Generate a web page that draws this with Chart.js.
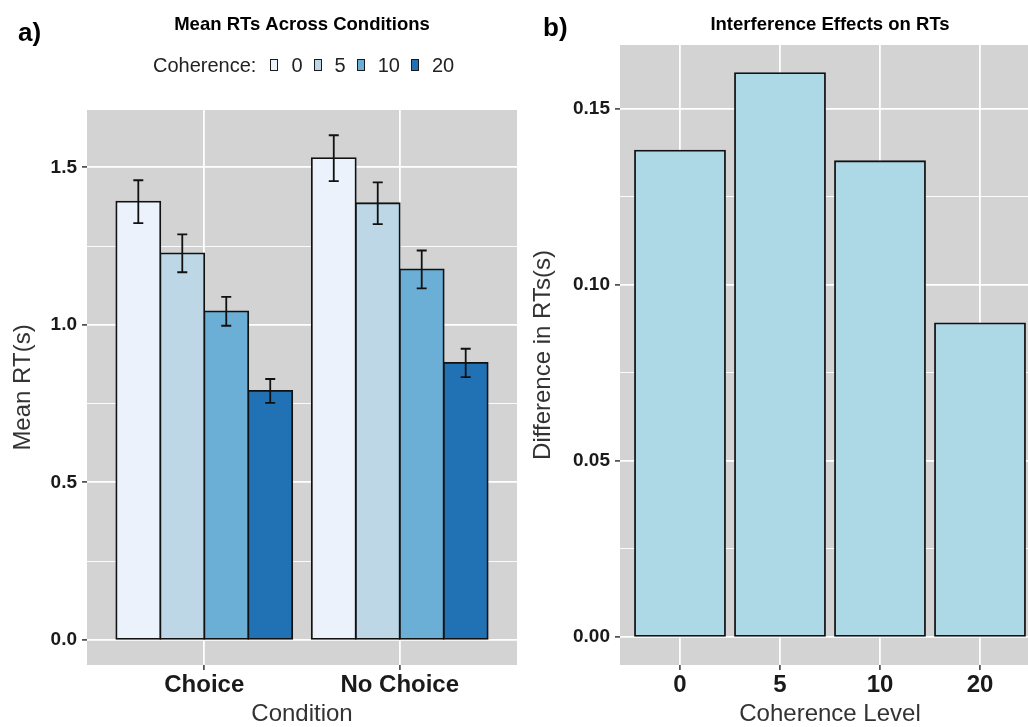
<!DOCTYPE html>
<html>
<head>
<meta charset="utf-8">
<script src="https://cdn.jsdelivr.net/npm/chart.js@4.4.1/dist/chart.umd.min.js"></script>
<style>
  body { margin: 0; background: #fff; overflow: hidden; width: 1028px; height: 727px; position: relative;
         font-family: "Liberation Sans", Arial, sans-serif; }
  canvas { position: absolute; top: 0; }
  #rtChart { left: 0; }
  #diffChart { left: 520px; }
  .tag { position: absolute; font-weight: bold; font-size: 26px; line-height: 26px; color: #000; }
  #legend { position: absolute; left: 153px; top: 53px; display: flex; align-items: center;
            font-size: 20px; line-height: 24px; color: #222; white-space: nowrap; }
  .key { display: inline-block; box-sizing: border-box; width: 8px; height: 12px;
         border: 1.6px solid #1a1a1a; margin: 0 13px 0 14px; }
  .lab { margin-right: -3px; }
</style>
</head>
<body>
<canvas id="rtChart" width="520" height="727"></canvas>
<canvas id="diffChart" width="520" height="727"></canvas>
<div class="tag" style="left:18px; top:19px;">a)</div>
<div class="tag" style="left:543px; top:14px;">b)</div>
<div id="legend"></div>

<script>
const conditions = ['Choice', 'No Choice'];
const coherenceLevels = ['0', '5', '10', '20'];

// mean RT (s) and standard error for each coherence level
const choiceRT = [1.391, 1.227, 1.043, 0.790];
const choiceSE = [0.068, 0.060, 0.046, 0.038];
const noChoiceRT = [1.529, 1.386, 1.176, 0.879];
const noChoiceSE = [0.073, 0.066, 0.060, 0.045];

// No Choice minus Choice
const interference = [0.138, 0.160, 0.135, 0.089];

const blues = ['#ebf2fc', '#bdd7e7', '#6baed6', '#2171b5'];
const diffColor = '#add8e6';

const FONT = '"Liberation Sans", Arial, sans-serif';
Chart.defaults.font.family = FONT;

// grey ggplot-style panel behind the grid
const panelBg = {
  id: 'panelBg',
  beforeDraw(chart) {
    const {ctx, chartArea: a} = chart;
    ctx.save();
    ctx.fillStyle = '#d3d3d3';
    ctx.fillRect(a.left, a.top, a.right - a.left, a.bottom - a.top);
    ctx.restore();
  }
};

const errorBars = {
  id: 'errorBars',
  afterDatasetsDraw(chart) {
    const {ctx} = chart;
    const y = chart.scales.y;
    ctx.save();
    ctx.strokeStyle = '#111';
    ctx.lineWidth = 1.8;
    chart.data.datasets.forEach((ds, i) => {
      if (!ds.errors) return;
      chart.getDatasetMeta(i).data.forEach((bar, j) => {
        const v = ds.data[j].y, e = ds.errors[j];
        const top = y.getPixelForValue(v + e);
        const bot = y.getPixelForValue(v - e);
        const half = 5;
        ctx.beginPath();
        ctx.moveTo(bar.x, top); ctx.lineTo(bar.x, bot);
        ctx.moveTo(bar.x - half, top); ctx.lineTo(bar.x + half, top);
        ctx.moveTo(bar.x - half, bot); ctx.lineTo(bar.x + half, bot);
        ctx.stroke();
      });
    });
    ctx.restore();
  }
};

function isMajor(v, step) {
  return Math.abs(v / step - Math.round(v / step)) < 1e-6;
}

function valueAxis(min, max, step, digits, width, titleText, titlePad) {
  const minor = step / 2;
  return {
    min: min, max: max,
    afterBuildTicks(scale) {
      const ticks = [];
      for (let k = 0; k * minor <= max + 1e-9; k++) ticks.push({value: k * minor});
      scale.ticks = ticks;
    },
    afterFit(scale) { scale.width = width; },
    border: {display: false},
    grid: {
      color: '#ffffff',
      lineWidth: ctx => isMajor(ctx.tick.value, step) ? 1.8 : 0.9,
      tickLength: 5,
      tickWidth: 1.5,
      tickColor: ctx => isMajor(ctx.tick.value, step) ? '#333333' : 'rgba(0,0,0,0)'
    },
    ticks: {
      autoSkip: false,
      padding: 5,
      color: '#1a1a1a',
      font: {size: 19, weight: 'bold'},
      callback: v => isMajor(v, step) ? v.toFixed(digits) : ''
    },
    title: {
      display: true, text: titleText, color: '#333',
      padding: {top: titlePad, bottom: 0},
      font: {size: 24, lineHeight: 1}
    }
  };
}

function indexAxis(labels, titleText) {
  return {
    type: 'linear',
    min: 0.4, max: labels.length + 0.6,
    offset: false,
    afterBuildTicks(scale) { scale.ticks = labels.map((_, i) => ({value: i + 1})); },
    afterFit(scale) { scale.height = 62; },
    border: {display: false},
    grid: {offset: false, color: '#ffffff', lineWidth: 1.8, tickLength: 5, tickWidth: 1.5, tickColor: '#333333'},
    ticks: {
      autoSkip: false, maxRotation: 0, padding: 1,
      color: '#1a1a1a',
      font: {size: 24, weight: 'bold'},
      callback: v => labels[Math.round(v) - 1]
    },
    title: {
      display: true, text: titleText, color: '#333',
      padding: {top: 0, bottom: 1},
      font: {size: 24, lineHeight: 1}
    }
  };
}

function chartTitle(text, bottomPad) {
  return {
    display: true, text: text, fullSize: false, color: '#000',
    font: {size: 18.5, weight: 'bold', lineHeight: 1},
    padding: {top: 16, bottom: bottomPad}
  };
}

// bars share their outlines, the stroke straddles the edge
const barStyle = {
  borderColor: '#111',
  borderWidth: 1.8,
  inflateAmount: 0.9,
  borderSkipped: false,
  categoryPercentage: 0.9,
  barPercentage: 1
};

// a) grouped bars with error bars
const rtMax = Math.max(...choiceRT.map((v, i) => v + choiceSE[i]), ...noChoiceRT.map((v, i) => v + noChoiceSE[i]));
const rtDatasets = coherenceLevels.map((lvl, k) => ({
  ...barStyle,
  label: lvl,
  data: [{x: 1, y: choiceRT[k]}, {x: 2, y: noChoiceRT[k]}],
  errors: [choiceSE[k], noChoiceSE[k]],
  backgroundColor: blues[k]
}));

new Chart(document.getElementById('rtChart'), {
  type: 'bar',
  data: {datasets: rtDatasets},
  options: {
    responsive: false,
    animation: false,
    layout: {padding: {left: 0, right: 3, top: 0, bottom: 0}},
    scales: {
      x: indexAxis(conditions, 'Condition'),
      y: valueAxis(-0.05 * rtMax, 1.05 * rtMax, 0.5, 1, 87, 'Mean RT(s)', 11.5)
    },
    plugins: {
      title: chartTitle('Mean RTs Across Conditions', 75.5),
      legend: {display: false},
      tooltip: {enabled: false}
    }
  },
  plugins: [panelBg, errorBars]
});

// b) interference per coherence level
const diffMax = Math.max(...interference);
new Chart(document.getElementById('diffChart'), {
  type: 'bar',
  data: {
    datasets: [{
      ...barStyle,
      label: 'Interference',
      data: interference.map((v, i) => ({x: i + 1, y: v})),
      backgroundColor: diffColor
    }]
  },
  options: {
    responsive: false,
    animation: false,
    layout: {padding: {left: 0, right: 0, top: 0, bottom: 0}},
    scales: {
      x: indexAxis(coherenceLevels, 'Coherence Level'),
      y: valueAxis(-0.05 * diffMax, 1.05 * diffMax, 0.05, 2, 100, 'Difference in RTs(s)', 11)
    },
    plugins: {
      title: chartTitle('Interference Effects on RTs', 10.5),
      legend: {display: false},
      tooltip: {enabled: false}
    }
  },
  plugins: [panelBg]
});

// legend for the coherence fills
const legend = document.getElementById('legend');
const head = document.createElement('span');
head.textContent = 'Coherence:';
legend.appendChild(head);
coherenceLevels.forEach((lvl, k) => {
  const key = document.createElement('span');
  key.className = 'key';
  key.style.background = blues[k];
  const lab = document.createElement('span');
  lab.className = 'lab';
  lab.textContent = lvl;
  legend.appendChild(key);
  legend.appendChild(lab);
});
</script>
</body>
</html>
